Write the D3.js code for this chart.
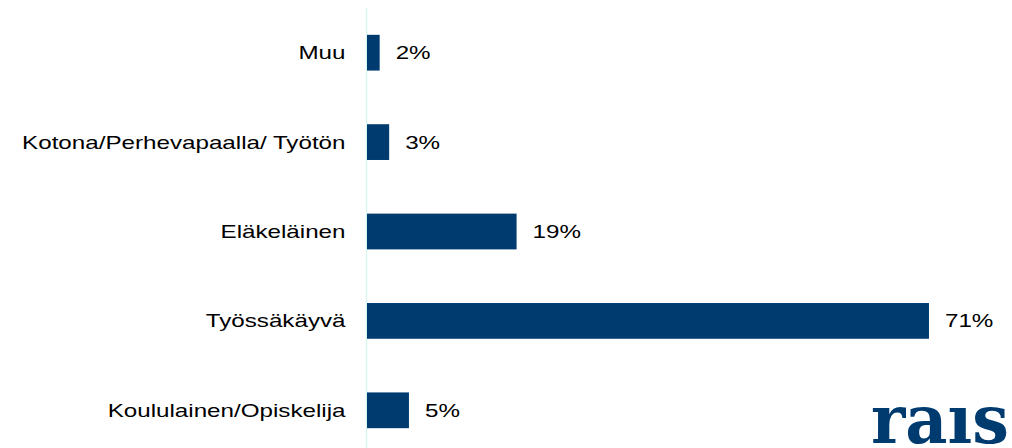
<!DOCTYPE html>
<html lang="fi">
<head>
  <meta charset="UTF-8">
  <title>Chart</title>
  <script src="https://d3js.org/d3.v7.min.js"></script>
  <style>
    body { margin: 0; background: #fff; }
    text { font-family: "Liberation Sans", Arial, sans-serif; fill: #000; }
  </style>
</head>
<body>
  <svg id="chart" width="1012" height="448"></svg>
  <script>
    // categories top to bottom and their shares (%)
    let categories = ['Muu', 'Kotona/Perhevapaalla/ Työtön', 'Eläkeläinen', 'Työssäkäyvä', 'Koululainen/Opiskelija'];
    let values = [1.6, 2.8, 18.9, 71.0, 5.3];
    let valueLabels = ['2%', '3%', '19%', '71%', '5%'];

    let data = categories.map(function (c, i) {
      return { name: c, value: values[i], label: valueLabels[i] };
    });

    let svg = d3.select('#chart');
    let stretch = 1.3; // text in the original is drawn a bit wide

    let x = d3.scaleLinear().domain([0, 80]).range([367, 367 + 80 * 7.915]);
    let y = d3.scaleBand()
      .domain(categories)
      .range([8, 455])
      .paddingInner(0.6)
      .paddingOuter(0.3);

    // vertical axis line
    svg.append('line')
      .attr('x1', 366.5).attr('x2', 366.5)
      .attr('y1', 8).attr('y2', 448)
      .attr('stroke', '#d2f7ee')
      .attr('stroke-width', 1.2);

    svg.selectAll('rect.bar')
      .data(data)
      .join('rect')
      .attr('class', 'bar')
      .attr('x', x(0))
      .attr('y', function (d) { return y(d.name); })
      .attr('width', function (d) { return x(d.value) - x(0); })
      .attr('height', y.bandwidth())
      .attr('fill', '#003b70');

    // category labels
    svg.selectAll('text.cat')
      .data(data)
      .join('text')
      .attr('class', 'cat')
      .attr('transform', function (d) {
        return 'translate(345.5,' + (y(d.name) + y.bandwidth() / 2) + ') scale(' + stretch + ',1)';
      })
      .attr('dy', '0.35em')
      .attr('text-anchor', 'end')
      .style('font-size', '18.6px')
      .text(function (d) { return d.name; });

    // value labels
    svg.selectAll('text.val')
      .data(data)
      .join('text')
      .attr('class', 'val')
      .attr('transform', function (d) {
        return 'translate(' + (x(d.value) + 16) + ',' + (y(d.name) + y.bandwidth() / 2) + ') scale(' + stretch + ',1)';
      })
      .attr('dy', '0.35em')
      .style('font-size', '18.6px')
      .text(function (d) { return d.label; });

    // logo
    svg.append('text')
      .attr('x', 871)
      .attr('y', 443)
      .attr('textLength', 138)
      .attr('lengthAdjust', 'spacingAndGlyphs')
      .style('font-family', '"DejaVu Serif", serif')
      .style('font-weight', 'bold')
      .style('font-size', '68px')
      .style('fill', '#003b70')
      .text('raıs');
  </script>
</body>
</html>
